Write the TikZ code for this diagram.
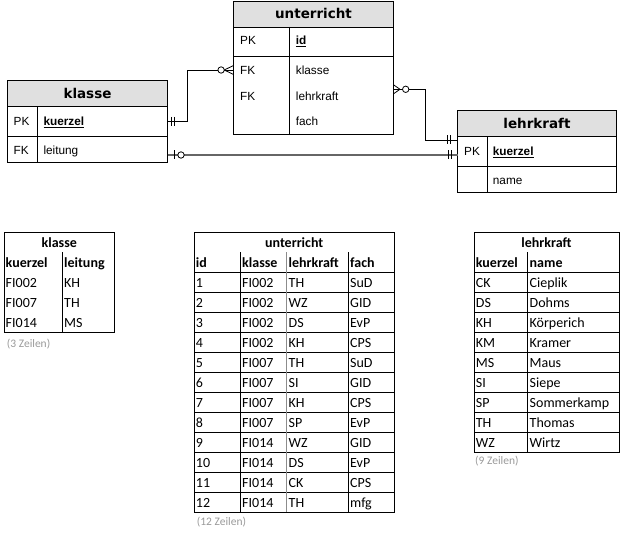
\documentclass[tikz,border=0pt]{standalone}
\usepackage{fontspec}
\setmainfont{Liberation Sans}
\newfontfamily\hdrfont{DejaVu Sans}
\newfontfamily\calfont{Carlito}
\definecolor{hdrgray}{HTML}{E0E0E0}
\definecolor{notegray}{HTML}{9A9A9A}
\begin{document}
\begin{tikzpicture}[x=1pt,y=-1pt,
  erbox/.style={draw, line width=0.8pt, inner sep=0pt, outer sep=0pt, anchor=north west},
  erhead/.style={erbox, fill=hdrgray},
  erhtxt/.style={anchor=base, inner sep=0pt, font=\hdrfont\bfseries\fontsize{13.5}{16}\selectfont},
  ertxt/.style={anchor=base west, inner sep=0pt, font=\fontsize{11.8}{14}\selectfont},
  conn/.style={line width=0.8pt, black},
  tline/.style={line width=0.8pt, black},
  tbox/.style={draw, line width=0.8pt, inner sep=0pt, outer sep=0pt, anchor=north west},
  tcell/.style={anchor=base west, inner sep=0pt, font=\calfont\fontsize{14}{16}\selectfont},
  thead/.style={tcell, font=\calfont\bfseries\fontsize{14}{16}\selectfont},
  ttitle/.style={anchor=base, inner sep=0pt, font=\calfont\bfseries\fontsize{14}{16}\selectfont},
  tnote/.style={anchor=base west, inner sep=0pt, text=notegray, font=\calfont\fontsize{11.5}{14}\selectfont}
]
\useasboundingbox (0,0) rectangle (627,534);

% ---------------- ER: klasse ----------------
\node[erhead, minimum width=160pt, minimum height=26pt] (klH) at (7.5,80.5) {};
\node[erbox, minimum width=160pt, minimum height=29.5pt] (klPK) at (7.5,106.5) {};
\node[erbox, minimum width=160pt, minimum height=26.5pt] (klFK) at (7.5,136) {};
\draw[conn] ([xshift=30pt]klPK.north west) -- ([xshift=30pt]klFK.south west);
\node[erhtxt] (klHt) at (87.5,98.3) {klasse};
\node[ertxt] (klPKl) at (13.5,125.5) {PK};
\node[ertxt] (klPKv) at (43.3,125.5) {\bfseries\underline{kuerzel}};
\node[ertxt] (klFKl) at (13.5,154.3) {FK};
\node[ertxt] (klFKv) at (43.3,154.3) {leitung};

% ---------------- ER: unterricht ----------------
\node[erhead, minimum width=160pt, minimum height=26pt] (unH) at (233.5,1) {};
\node[erbox, minimum width=160pt, minimum height=29.5pt] (unPK) at (233.5,27) {};
\node[erbox, minimum width=160pt, minimum height=77.5pt] (unFK) at (233.5,56.5) {};
\draw[conn] ([xshift=56pt]unPK.north west) -- ([xshift=56pt]unFK.south west);
\node[erhtxt] (unHt) at (313.5,18.3) {unterricht};
\node[ertxt] (unPKl) at (240,45) {PK};
\node[ertxt] (unPKv) at (295.7,45) {\bfseries\underline{id}};
\node[ertxt] (unF1l) at (240,74.2) {FK};
\node[ertxt] (unF1v) at (295.7,74.2) {klasse};
\node[ertxt] (unF2l) at (240,100.8) {FK};
\node[ertxt] (unF2v) at (295.7,100.8) {lehrkraft};
\node[ertxt] (unF3v) at (295.7,125.5) {fach};

% ---------------- ER: lehrkraft ----------------
\node[erhead, minimum width=159pt, minimum height=26pt] (lkH) at (457.5,110.5) {};
\node[erbox, minimum width=159pt, minimum height=30pt] (lkPK) at (457.5,136.5) {};
\node[erbox, minimum width=159pt, minimum height=26pt] (lkR) at (457.5,166.5) {};
\draw[conn] ([xshift=30pt]lkPK.north west) -- ([xshift=30pt]lkR.south west);
\node[erhtxt] (lkHt) at (537,128.3) {lehrkraft};
\node[ertxt] (lkPKl) at (464,155.5) {PK};
\node[ertxt] (lkPKv) at (492.7,155.5) {\bfseries\underline{kuerzel}};
\node[ertxt] (lkRv) at (492.7,185) {name};

% ---------------- connectors ----------------
\coordinate (c1a) at (167.5,121.5);
\coordinate (c1b) at (233.5,70);
\coordinate (c2a) at (393.5,89.3);
\coordinate (c2b) at (457.5,140);
\coordinate (c3a) at (167.5,155);
\coordinate (c3b) at (457.5,155);

% klasse 1 -- n unterricht
\draw[conn] (c1a) -- ++(20,0) |- (c1b);
\draw[conn] ([shift={(3.8,-4.5)}]c1a) -- ++(0,9);
\draw[conn] ([shift={(6.8,-4.5)}]c1a) -- ++(0,9);
\draw[conn] ([shift={(-9.2,0)}]c1b) -- ([shift={(0,-4.5)}]c1b);
\draw[conn] ([shift={(-9.2,0)}]c1b) -- ([shift={(0,4.5)}]c1b);
\draw[conn, fill=white] ([shift={(-12.4,0)}]c1b) circle (3.2pt);

% unterricht n -- 1 lehrkraft
\draw[conn] (c2a) -- ++(32,0) |- (c2b);
\draw[conn] ([shift={(6.5,0)}]c2a) -- ([shift={(0,-4.5)}]c2a);
\draw[conn] ([shift={(6.5,0)}]c2a) -- ([shift={(0,4.5)}]c2a);
\draw[conn, fill=white] ([shift={(12.2,0)}]c2a) circle (3.2pt);
\draw[conn] ([shift={(-10.5,-4.5)}]c2b) -- ++(0,9);
\draw[conn] ([shift={(-7.5,-4.5)}]c2b) -- ++(0,9);

% klasse leitung 0..1 -- 1 lehrkraft
\draw[line width=1.2pt, black!60] (c3a) -- (c3b);
\draw[conn] ([shift={(6.5,-4.5)}]c3a) -- ++(0,9);
\draw[conn, fill=white] ([shift={(13.5,0)}]c3a) circle (3.2pt);
\draw[conn] ([shift={(-9.2,-4.5)}]c3b) -- ++(0,9);
\draw[conn] ([shift={(-5.8,-4.5)}]c3b) -- ++(0,9);

% ---------------- table: klasse ----------------
\node[tbox, minimum width=110.7pt, minimum height=100.4pt] (kT) at (4,232.3) {};
\draw[tline] (62.3,252.3) -- (62.3,332.7);
\node[ttitle] (kTt) at (59.3,247.8) {klasse};
\node[thead] (kh1) at (5.5,267.8) {kuerzel};
\node[thead] (kh2) at (64,267.8) {leitung};
\foreach [count=\r] \a/\b in {FI002/KH, FI007/TH, FI014/MS} {
  \node[tcell] (k\r a) at (5.5,{267.8+20*\r}) {\a};
  \node[tcell] (k\r b) at (64,{267.8+20*\r}) {\b};
}
\node[tnote] (kN) at (6.7,347.5) {(3 Zeilen)};

% ---------------- table: unterricht ----------------
\node[tbox, minimum width=200.3pt, minimum height=280pt] (uT) at (194,232.3) {};
\foreach \yy in {272.3,292.3,...,492.3} { \draw[tline] (194,\yy) -- (394.3,\yy); }
\draw[tline] (240,252.3) -- (240,512.3);
\draw[line width=0.8pt, black!45] (286.7,252.3) -- (286.7,512.3);
\draw[tline] (348.3,252.3) -- (348.3,512.3);
\node[ttitle] (uTt) at (294.2,247.8) {unterricht};
\node[thead] (uh1) at (195.7,267.8) {id};
\node[thead] (uh2) at (242,267.8) {klasse};
\node[thead] (uh3) at (288.5,267.8) {lehrkraft};
\node[thead] (uh4) at (350,267.8) {fach};
\foreach [count=\r] \a/\b/\c/\d in {1/FI002/TH/SuD, 2/FI002/WZ/GID, 3/FI002/DS/EvP, 4/FI002/KH/CPS,
    5/FI007/TH/SuD, 6/FI007/SI/GID, 7/FI007/KH/CPS, 8/FI007/SP/EvP,
    9/FI014/WZ/GID, 10/FI014/DS/EvP, 11/FI014/CK/CPS, 12/FI014/TH/mfg} {
  \node[tcell] (u\r a) at (195.7,{267.8+20*\r}) {\a};
  \node[tcell] (u\r b) at (242,{267.8+20*\r}) {\b};
  \node[tcell] (u\r c) at (288.5,{267.8+20*\r}) {\c};
  \node[tcell] (u\r d) at (350,{267.8+20*\r}) {\d};
}
\node[tnote] (uN) at (196.7,525.5) {(12 Zeilen)};

% ---------------- table: lehrkraft ----------------
\node[tbox, minimum width=145pt, minimum height=220pt] (lT) at (474,232.3) {};
\foreach \yy in {272.3,292.3,...,432.3} { \draw[tline] (474,\yy) -- (619,\yy); }
\draw[tline] (527.3,252.3) -- (527.3,452.3);
\node[ttitle] (lTt) at (546.5,247.8) {lehrkraft};
\node[thead] (lh1) at (475.7,267.8) {kuerzel};
\node[thead] (lh2) at (529.5,267.8) {name};
\foreach [count=\r] \a/\b in {CK/Cieplik, DS/Dohms, KH/Körperich, KM/Kramer, MS/Maus,
    SI/Siepe, SP/Sommerkamp, TH/Thomas, WZ/Wirtz} {
  \node[tcell] (l\r a) at (475.7,{267.8+20*\r}) {\a};
  \node[tcell] (l\r b) at (529.5,{267.8+20*\r}) {\b};
}
\node[tnote] (lN) at (475,464.5) {(9 Zeilen)};
\end{tikzpicture}
\end{document}
